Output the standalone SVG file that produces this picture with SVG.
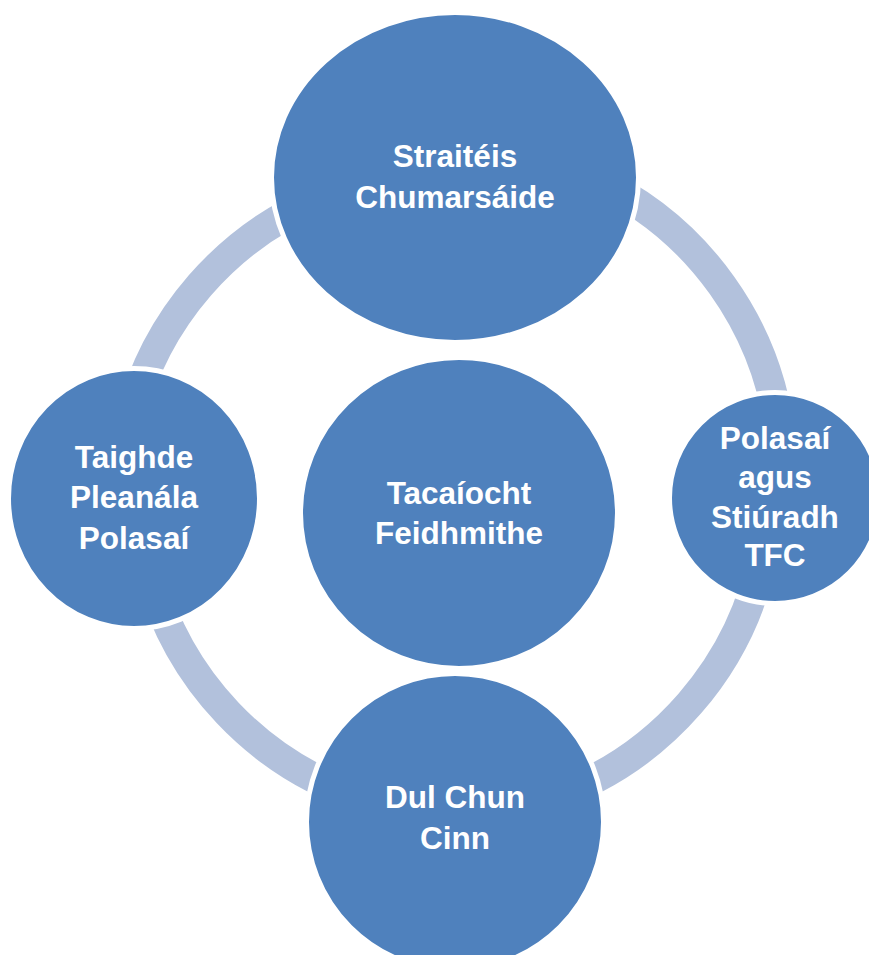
<svg xmlns="http://www.w3.org/2000/svg" width="869" height="955" viewBox="0 0 869 955">
<style>
.arc{fill:none;stroke:#B2C1DC;stroke-width:30;stroke-linecap:butt}
.node{fill:#4F81BD;stroke:#FFFFFF;stroke-width:5}
.lbl{font-family:"Liberation Sans",Arial,sans-serif;font-weight:bold;font-size:31.5px;fill:#FFFFFF;text-anchor:middle}
</style>
<rect x="0" y="0" width="869" height="955" fill="#FFFFFF"/>
<g id="connectors">
<path class="arc" d="M589.6 177.2 A325 325 0 0 1 781.2 445.8"/>
<path class="arc" d="M764.6 546.7 A325 325 0 0 1 544.9 799.4"/>
<path class="arc" d="M363.1 798.4 A325 325 0 0 1 149.6 573.4"/>
<path class="arc" d="M129.8 420 A325 325 0 0 1 323.4 197.3"/>
</g>
<g id="node-top">
<ellipse class="node" cx="455" cy="177.5" rx="183.5" ry="165"/>
<text class="lbl"><tspan x="455" y="167">Straitéis</tspan><tspan x="455" y="208">Chumarsáide</tspan></text>
</g>
<g id="node-center">
<ellipse class="node" cx="459" cy="513" rx="158.5" ry="155.5"/>
<text class="lbl"><tspan x="459" y="504">Tacaíocht</tspan><tspan x="459" y="544">Feidhmithe</tspan></text>
</g>
<g id="node-left">
<ellipse class="node" cx="134" cy="498.5" rx="125.5" ry="130"/>
<text class="lbl"><tspan x="134" y="468">Taighde</tspan><tspan x="134" y="508">Pleanála</tspan><tspan x="134" y="549">Polasaí</tspan></text>
</g>
<g id="node-right">
<ellipse class="node" cx="775" cy="498" rx="105.5" ry="105.5"/>
<text class="lbl"><tspan x="775" y="449">Polasaí</tspan><tspan x="775" y="488">agus</tspan><tspan x="775" y="527.5">Stiúradh</tspan><tspan x="775" y="566">TFC</tspan></text>
</g>
<g id="node-bottom">
<ellipse class="node" cx="455" cy="822" rx="148.5" ry="148.5"/>
<text class="lbl"><tspan x="455" y="808">Dul Chun</tspan><tspan x="455" y="849">Cinn</tspan></text>
</g>
</svg>
